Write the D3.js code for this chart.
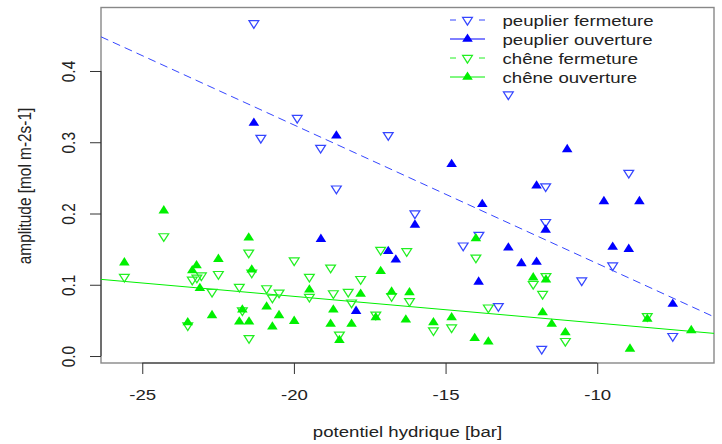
<!DOCTYPE html>
<html>
<head>
<meta charset="utf-8">
<script src="https://cdn.jsdelivr.net/npm/d3@7"></script>
<style>
  body { margin: 0; background: #fff; }
  text { font-family: "Liberation Sans", Arial, sans-serif; fill: #222; }
</style>
</head>
<body>
<script>
// potentiel hydrique (bar) / amplitude (mol m-2 s-1)
var peuplierFermetureX = [-21.32, -21.09, -19.89, -19.12, -16.89, -18.60, -16.01, -11.70, -8.96, -11.70,
  -13.90, -14.42, -9.49, -10.51, -13.26, -11.83, -7.51, -12.93];
var peuplierFermetureY = [0.467, 0.306, 0.334, 0.292, 0.310, 0.235, 0.200, 0.238, 0.257, 0.188,
  0.170, 0.155, 0.127, 0.106, 0.070, 0.010, 0.028, 0.367];

var peuplierOuvertureX = [-21.32, -18.60, -16.01, -10.99, -14.80, -12.00, -9.78, -8.61, -13.79, -11.70,
  -12.93, -9.49, -8.96, -12.50, -12.00, -7.51, -19.11, -13.91, -16.89, -16.64, -17.95];
var peuplierOuvertureY = [0.327, 0.309, 0.184, 0.290, 0.269, 0.239, 0.217, 0.217, 0.213, 0.177,
  0.152, 0.153, 0.150, 0.130, 0.132, 0.073, 0.164, 0.104, 0.147, 0.135, 0.063];

var cheneFermetureX = [-24.29, -21.49, -19.99, -25.59, -22.49, -23.35, -23.05, -23.20, -21.39, -19.49,
  -19.49, -22.70, -21.80, -20.90, -20.49, -20.71, -21.70, -21.48, -23.50, -18.79,
  -17.80, -18.70, -18.21, -18.10, -16.78, -16.19, -17.30, -15.40, -14.80, -18.50,
  -17.14, -16.28, -14.00, -13.59, -12.11, -11.69, -11.80, -11.05, -8.35];
var cheneFermetureY = [0.168, 0.145, 0.134, 0.111, 0.115, 0.107, 0.113, 0.110, 0.117, 0.111,
  0.083, 0.090, 0.097, 0.095, 0.089, 0.082, 0.064, 0.025, 0.043, 0.124,
  0.108, 0.088, 0.090, 0.075, 0.084, 0.077, 0.058, 0.036, 0.040, 0.030,
  0.149, 0.147, 0.138, 0.068, 0.101, 0.112, 0.087, 0.021, 0.056];

var cheneOuvertureX = [-24.29, -21.49, -25.59, -22.49, -23.21, -23.35, -23.10, -21.39, -19.49, -20.90,
  -20.49, -19.99, -22.70, -21.70, -21.80, -21.48, -20.71, -23.50, -17.14, -17.80,
  -16.78, -16.19, -18.70, -18.79, -18.10, -17.30, -16.31, -15.40, -14.80, -18.50,
  -14.04, -13.59, -14.00, -12.11, -11.69, -11.80, -11.50, -11.05, -8.92, -8.35, -6.90];
var cheneOuvertureY = [0.204, 0.166, 0.131, 0.136, 0.127, 0.120, 0.095, 0.121, 0.093, 0.069,
  0.057, 0.049, 0.057, 0.065, 0.048, 0.048, 0.041, 0.047, 0.119, 0.087,
  0.090, 0.089, 0.065, 0.045, 0.045, 0.054, 0.051, 0.047, 0.054, 0.022,
  0.025, 0.020, 0.165, 0.110, 0.107, 0.061, 0.045, 0.033, 0.010, 0.052, 0.036];

// fitted lines (intercept, slope)
var peuplierFit = [-0.0646, -0.019446];
var cheneFit = [0.0087, -0.003751];

var xTicks = [-25, -20, -15, -10];
var yTicks = [0, 0.1, 0.2, 0.3, 0.4];
var legendLabels = ['peuplier fermeture', 'peuplier ouverture', 'chêne fermeture', 'chêne ouverture'];

var fullWidth = 722;
var fullHeight = 444;
var plot = {left: 101, right: 714, top: 7.5, bottom: 363};
var stretch = 1.21;   // text in the picture is wider than tall
var fontSize = 15.4;

var blue = '#0000ff', blueLight = '#3546ff', green = '#00f000', greenLight = '#22f022';

var svg = d3.select('body').append('svg')
  .attr('width', fullWidth)
  .attr('height', fullHeight);

var x = d3.scaleLinear().domain([-26.36, -6.15]).range([plot.left, plot.right]);
var y = d3.scaleLinear().domain([-0.0098, 0.4891]).range([plot.bottom, plot.top]);

svg.append('clipPath').attr('id', 'plotclip')
  .append('rect')
    .attr('x', plot.left).attr('y', plot.top)
    .attr('width', plot.right - plot.left).attr('height', plot.bottom - plot.top);

// box
svg.append('rect')
  .attr('x', plot.left).attr('y', plot.top)
  .attr('width', plot.right - plot.left).attr('height', plot.bottom - plot.top)
  .attr('fill', 'none').attr('stroke', '#888').attr('stroke-width', 1.4);

// axes
var xAxis = d3.axisBottom(x).tickValues(xTicks).tickSize(11).tickSizeOuter(0)
  .tickFormat(function(d) { return String(d); });
var yAxis = d3.axisLeft(y).tickValues(yTicks).tickSize(11).tickSizeOuter(0)
  .tickFormat(d3.format('.1f'));

var xAxisEle = svg.append('g')
  .attr('transform', 'translate(0,' + plot.bottom + ')')
  .call(xAxis);
var yAxisEle = svg.append('g')
  .attr('transform', 'translate(' + plot.left + ',0)')
  .call(yAxis);

[xAxisEle, yAxisEle].forEach(function(a) {
  a.select('.domain').remove();
  a.selectAll('line').attr('stroke', '#333');
  a.selectAll('text').attr('fill', '#222').style('font-size', fontSize + 'px')
    .attr('x', null).attr('y', null).attr('dy', null);
});
xAxisEle.selectAll('text')
  .attr('text-anchor', 'middle')
  .attr('transform', 'translate(0,36.5) scale(' + stretch + ',1)');
yAxisEle.selectAll('text')
  .attr('text-anchor', 'middle')
  .attr('transform', 'translate(-26,0) scale(' + stretch + ',1) rotate(-90)');

xAxisEle.append('line')
  .attr('x1', x(xTicks[0])).attr('x2', x(xTicks[xTicks.length - 1]))
  .attr('stroke', '#333');
yAxisEle.append('line')
  .attr('y1', y(yTicks[0])).attr('y2', y(yTicks[yTicks.length - 1]))
  .attr('stroke', '#333');

// axis titles
svg.append('text')
  .attr('transform', 'translate(' + (plot.left + plot.right) / 2 + ',437) scale(' + stretch + ',1)')
  .attr('text-anchor', 'middle')
  .style('font-size', fontSize + 'px')
  .text('potentiel hydrique [bar]');

svg.append('text')
  .attr('transform', 'translate(31,186) scale(' + stretch + ',1) rotate(-90)')
  .attr('text-anchor', 'middle')
  .style('font-size', fontSize + 'px')
  .text('amplitude [mol m-2s-1]');

// fitted lines
var fitHolder = svg.append('g').attr('clip-path', 'url(#plotclip)');
var xEnds = x.domain();
function fitLine(fit, color, dash) {
  fitHolder.append('line')
    .attr('x1', x(xEnds[0])).attr('y1', y(fit[0] + fit[1] * xEnds[0]))
    .attr('x2', x(xEnds[1])).attr('y2', y(fit[0] + fit[1] * xEnds[1]))
    .attr('stroke', color).attr('stroke-width', 1)
    .attr('stroke-dasharray', dash);
}
fitLine(peuplierFit, blueLight, '8,5');
fitLine(cheneFit, green, null);

// points
var upPath = d3.symbol(d3.symbolTriangle, 40)();
var downPath = d3.symbol(d3.symbolTriangle, 34)();

function markers(xs, ys, filled, color) {
  var pts = xs.map(function(v, i) { return [v, ys[i]]; });
  svg.append('g').selectAll('path')
    .data(pts)
    .enter().append('path')
      .attr('d', filled ? upPath : downPath)
      .attr('transform', function(d) {
        return 'translate(' + x(d[0]) + ',' + y(d[1]) + ') scale(1.1,1)' + (filled ? '' : ' rotate(180)');
      })
      .attr('fill', filled ? color : 'none')
      .attr('stroke', filled ? 'none' : color)
      .attr('stroke-width', 1.2);
}
markers(peuplierFermetureX, peuplierFermetureY, false, blueLight);
markers(cheneFermetureX, cheneFermetureY, false, greenLight);
markers(cheneOuvertureX, cheneOuvertureY, true, green);
markers(peuplierOuvertureX, peuplierOuvertureY, true, blue);

// legend
var legendStyles = [
  {color: blueLight, filled: false, dash: '6,23,6'},
  {color: blue, filled: true, dash: null},
  {color: greenLight, filled: false, dash: '6,23,6'},
  {color: green, filled: true, dash: null}
];
var legend = svg.append('g');
legendLabels.forEach(function(label, i) {
  var ry = 20 + i * 19;
  var s = legendStyles[i];
  legend.append('line')
    .attr('x1', 450).attr('x2', 485).attr('y1', ry).attr('y2', ry)
    .attr('stroke', s.color).attr('stroke-width', 1)
    .attr('stroke-dasharray', s.dash);
  legend.append('path')
    .attr('d', s.filled ? upPath : downPath)
    .attr('transform', 'translate(467.5,' + ry + ') scale(1.1,1)' + (s.filled ? '' : ' rotate(180)'))
    .attr('fill', s.filled ? s.color : 'none')
    .attr('stroke', s.filled ? 'none' : s.color)
    .attr('stroke-width', 1.2);
  legend.append('text')
    .attr('transform', 'translate(502.5,' + (ry + 5.5) + ') scale(' + stretch + ',1)')
    .style('font-size', fontSize + 'px')
    .text(label);
});
</script>
</body>
</html>
